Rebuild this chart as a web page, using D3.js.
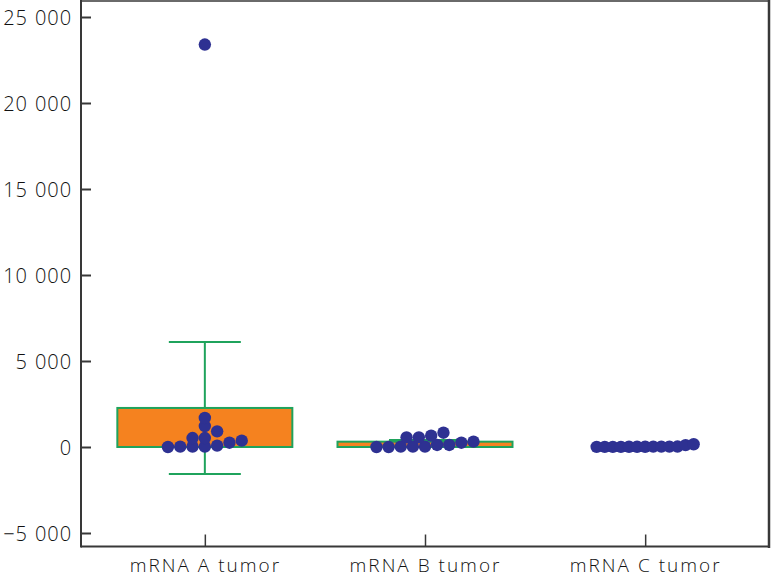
<!DOCTYPE html>
<html>
<head>
<meta charset="utf-8">
<script src="https://cdn.jsdelivr.net/npm/d3@7"></script>
<style>
  html, body { margin: 0; padding: 0; background: #fff; }
  svg { display: block; }
  text { font-family: "Open Sans", "Noto Sans", sans-serif; font-weight: 300; fill: #111; }
</style>
</head>
<body>
<svg id="chart" width="771" height="577"></svg>
<script>
// ---- data ----
const categories = ["mRNA A tumor", "mRNA B tumor", "mRNA C tumor"];
const valuesA = [0, 20, 20, 20, 80, 250, 370, 520, 520, 910, 1220, 1690, 23400];
const valuesB = [0, 0, 20, 20, 20, 120, 120, 250, 310, 560, 560, 660, 830];
const valuesC = [10, 10, 10, 10, 15, 15, 15, 20, 20, 20, 25, 110, 160];
const means = [2270, 310, 35];
const ciLow = [-1570, 213, 15];
const ciHigh = [6100, 407, 60];
const yTicks = [-5000, 0, 5000, 10000, 15000, 20000, 25000];

const series = [valuesA, valuesB, valuesC];

// ---- layout ----
const plotL = 81, plotR = 769, plotT = 1, plotB = 546.5;
const svg = d3.select("#chart");

const y = d3.scaleLinear().domain([-5814, 25872]).range([547, 2]);
const x = d3.scalePoint().domain(categories).range([plotL, plotR]).padding(0.5625);

const orange = "#f5821f", green = "#1fa35c", dot = "#2e3192", frame = "#383838";
const barW = 175, capW = 72, r = 6.2;

// error bars (behind bars)
const eb = svg.append("g");
categories.forEach((c, i) => {
  const cx = x(c);
  eb.append("line").attr("x1", cx).attr("x2", cx)
    .attr("y1", y(ciLow[i])).attr("y2", y(ciHigh[i]))
    .attr("stroke", green).attr("stroke-width", 2);
  [ciLow[i], ciHigh[i]].forEach(v => {
    eb.append("line").attr("x1", cx - capW / 2).attr("x2", cx + capW / 2)
      .attr("y1", y(v)).attr("y2", y(v))
      .attr("stroke", green).attr("stroke-width", 2);
  });
});

// bars (mean)
const bars = svg.append("g");
categories.forEach((c, i) => {
  const h = y(0) - y(means[i]);
  if (h < 1) return;
  bars.append("rect")
    .attr("x", x(c) - barW / 2).attr("width", barW)
    .attr("y", y(means[i])).attr("height", h)
    .attr("fill", orange).attr("stroke", green).attr("stroke-width", 2);
});

// dots: row-binned scatter, centered per row
const dotsG = svg.append("g");
const maxSpan = 97, step = 12.3, rowThresh = 7;
categories.forEach((c, i) => {
  const vals = series[i].slice().sort((a, b) => a - b);
  const rows = [];
  let cur = null;
  vals.forEach(v => {
    if (cur && (y(cur[0]) - y(v)) <= rowThresh) cur.push(v);
    else { cur = [v]; rows.push(cur); }
  });
  rows.forEach(row => {
    const n = row.length;
    const s = n > 1 ? Math.min(step, maxSpan / (n - 1)) : 0;
    row.forEach((v, k) => {
      dotsG.append("circle")
        .attr("cx", x(c) + (k - (n - 1) / 2) * s)
        .attr("cy", y(v))
        .attr("r", r)
        .attr("fill", dot);
    });
  });
});

// frame
svg.append("line").attr("x1", plotL).attr("x2", plotR).attr("y1", plotT).attr("y2", plotT)
  .attr("stroke", frame).attr("stroke-width", 1.5);
svg.append("line").attr("x1", plotR).attr("x2", plotR).attr("y1", 0).attr("y2", 548)
  .attr("stroke", frame).attr("stroke-width", 2.5);
svg.append("line").attr("x1", plotL).attr("x2", plotR + 1).attr("y1", plotB).attr("y2", plotB)
  .attr("stroke", frame).attr("stroke-width", 2);
svg.append("line").attr("x1", plotL).attr("x2", plotL).attr("y1", 0).attr("y2", 547.5)
  .attr("stroke", frame).attr("stroke-width", 2);

// y axis (ticks inward)
const fmt = v => (v < 0 ? "\u2212" : "") + d3.format(",")(Math.abs(v)).replace(/,/g, "\u2009\u200A");
const yAxis = d3.axisRight(y).tickValues(yTicks).tickSize(10).tickFormat("");
const gy = svg.append("g").attr("transform", `translate(${plotL},0)`).call(yAxis);
gy.select(".domain").remove();
gy.selectAll(".tick line").attr("stroke", frame).attr("stroke-width", 2);
gy.selectAll(".tick").append("text")
  .attr("x", -9).attr("dy", "0.36em")
  .attr("text-anchor", "end")
  .style("font-size", "20px")
  .style("letter-spacing", "0.9px")
  .text(d => fmt(d));

// x axis (ticks inward)
const xAxis = d3.axisTop(x).tickSize(12).tickFormat("");
const gx = svg.append("g").attr("transform", `translate(0,${plotB})`).call(xAxis);
gx.select(".domain").remove();
gx.selectAll(".tick line").attr("stroke", frame).attr("stroke-width", 1.5);
gx.selectAll(".tick").append("text")
  .attr("y", 25).attr("text-anchor", "middle")
  .style("font-size", "19px")
  .style("letter-spacing", "2px")
  .text(d => d);
</script>
</body>
</html>
